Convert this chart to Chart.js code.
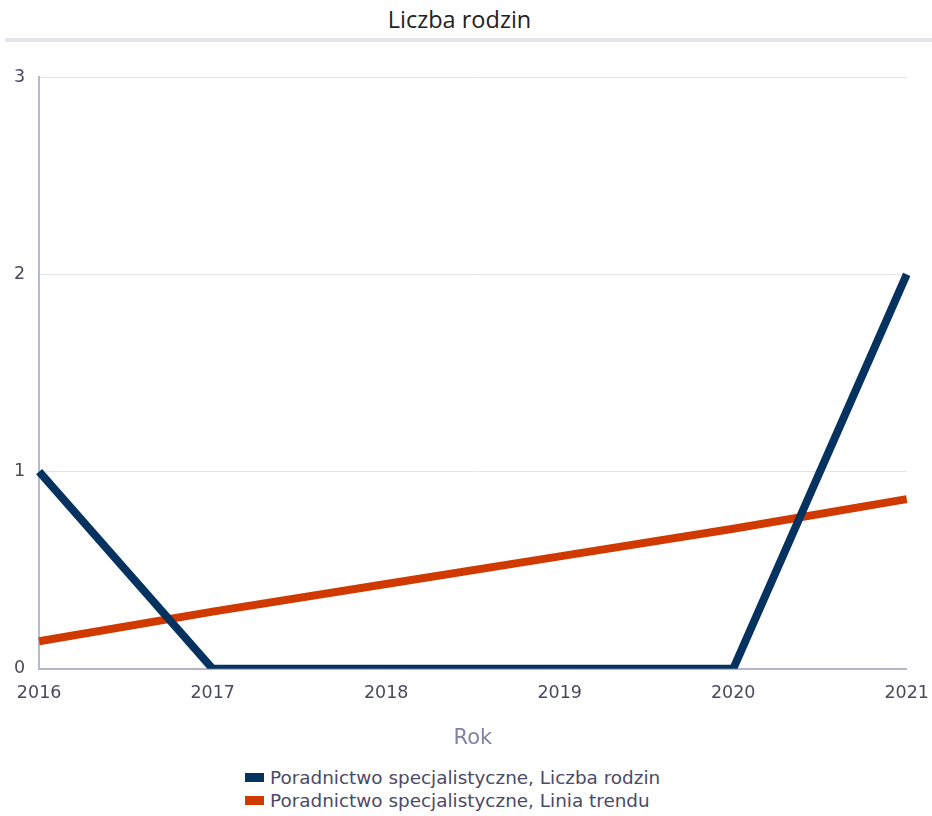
<!DOCTYPE html>
<html>
<head>
<meta charset="utf-8">
<script src="https://cdn.jsdelivr.net/npm/chart.js@4"></script>
<style>
  body { margin: 0; background: #fff; width: 932px; overflow: hidden; }
  #tytul { margin-left: 5px; width: 927px; height: 38px; border-bottom: 4px solid #e4e4ea;
           font-family: "Open Sans", sans-serif; font-size: 23.5px; color: #222; line-height: 38px;
           text-align: center; text-indent: -18px; }
  #wrap { position: relative; width: 943px; height: 709px; }
  #legend { width: 932px; font-family: "DejaVu Sans", sans-serif; font-size: 18.4px; color: #4a4a66; }
  #legend ul { list-style: none; margin: 15px 0 0 0; padding: 0 0 0 245px; }
  #legend li { height: 23px; line-height: 23px; white-space: nowrap; }
  #legend span.box { display: inline-block; width: 19px; height: 9px; margin-right: 6px; vertical-align: 2px; }
</style>
</head>
<body>
<div id="tytul">Liczba rodzin</div>
<div id="wrap"><canvas id="rodzinyChart"></canvas></div>
<div id="legend"></div>
<script>
const lata = ['2016', '2017', '2018', '2019', '2020', '2021'];
const liczbaRodzin = [1, 0, 0, 0, 0, 2];
const liniaTrendu = [0.14, 0.29, 0.43, 0.57, 0.71, 0.86];
const nazwySerii = ['Poradnictwo specjalistyczne, Liczba rodzin', 'Poradnictwo specjalistyczne, Linia trendu'];
const kolory = ['#06325f', '#d03a00'];

const ctx = document.getElementById('rodzinyChart').getContext('2d');
const chart = new Chart(ctx, {
  type: 'line',
  data: {
    labels: lata,
    datasets: [{
      label: nazwySerii[0],
      data: liczbaRodzin,
      borderColor: kolory[0],
      backgroundColor: kolory[0],
      borderWidth: 8,
      pointRadius: 0,
      tension: 0
    }, {
      label: nazwySerii[1],
      data: liniaTrendu,
      borderColor: kolory[1],
      backgroundColor: kolory[1],
      borderWidth: 8,
      pointRadius: 0,
      tension: 0
    }]
  },
  options: {
    responsive: true,
    maintainAspectRatio: false,
    animation: false,
    layout: { padding: { left: 0, right: 0, top: 35, bottom: 0 } },
    plugins: {
      legend: { display: false },
      tooltip: { enabled: false },
      title: { display: false }
    },
    scales: {
      x: {
        offset: false,
        grid: { display: false, drawTicks: false },
        border: { color: '#b4b4cc', width: 2 },
        ticks: {
          color: '#4a4a5e',
          font: { family: 'DejaVu Sans', size: 17.5 },
          padding: 14,
          maxRotation: 0
        },
        title: {
          display: true,
          text: 'Rok',
          color: '#8282a8',
          font: { family: 'DejaVu Sans', size: 21 },
          padding: { top: 8, bottom: 0 }
        }
      },
      y: {
        min: 0,
        max: 3,
        grid: { color: '#e4e4ee', lineWidth: 1, drawTicks: false },
        border: { color: '#b8b8d0', width: 2 },
        ticks: {
          stepSize: 1,
          color: '#4a4a5e',
          font: { family: 'DejaVu Sans', size: 17.5 },
          padding: 14
        }
      }
    }
  }
});

// legenda HTML
const ul = document.createElement('ul');
nazwySerii.forEach((n, i) => {
  const li = document.createElement('li');
  li.innerHTML = '<span class="box" style="background:' + kolory[i] + '"></span>' + n;
  ul.appendChild(li);
});
document.getElementById('legend').appendChild(ul);
</script>
</body>
</html>
